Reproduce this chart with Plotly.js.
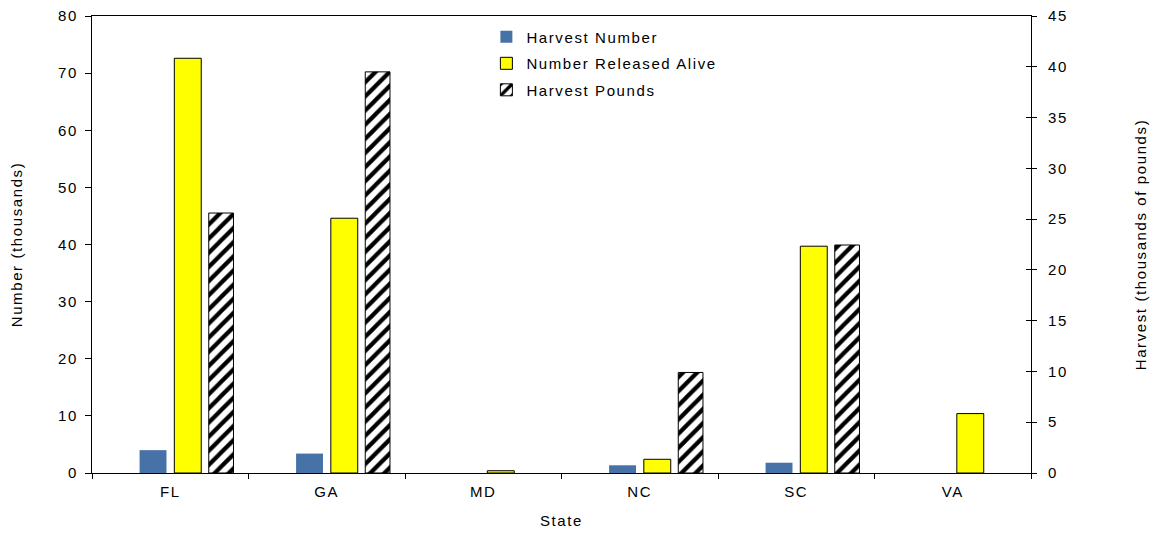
<!DOCTYPE html>
<html>
<head>
<meta charset="utf-8">
<script src="https://cdn.plot.ly/plotly-3.0.1.min.js"></script>
<style>
html,body{margin:0;padding:0;background:#fff;}
#chart{width:1158px;height:534px;}
svg text{letter-spacing:1.6px;}
</style>
</head>
<body>
<div id="chart"></div>
<script>
const states = ["FL", "GA", "MD", "NC", "SC", "VA"];
const harvestNumber = [4.0, 3.4, 0, 1.35, 1.8, 0];
const releasedAlive = [72.6, 44.6, 0.4, 2.4, 39.7, 10.4];
const harvestPounds = [25.6, 39.5, 0, 9.9, 22.45, 0];
const leftTicks = [0, 10, 20, 30, 40, 50, 60, 70, 80];
const rightTicks = [0, 5, 10, 15, 20, 25, 30, 35, 40, 45];

const font = {family: "Liberation Sans, Arial, sans-serif", color: "#000"};
const f = s => Object.assign({size: s}, font);
const edge = vals => vals.map(v => (v > 0 ? 1 : 0));

const traces = [
  {type: "bar", name: "Harvest Number", legendgroup: "a", x: states, y: harvestNumber, yaxis: "y",
   offset: -0.196, width: 0.172, marker: {color: "#4672A8", line: {width: 0}}},
  {type: "bar", name: "Number Released Alive", legendgroup: "b", x: states, y: releasedAlive, yaxis: "y",
   offset: 0.026, width: 0.172, marker: {color: "#FFFF00", line: {color: "#000", width: edge(releasedAlive)}}},
  {type: "bar", name: "Harvest Pounds", legendgroup: "c", x: states, y: harvestPounds, yaxis: "y2",
   offset: 0.246, width: 0.158,
   marker: {color: "#fff", line: {color: "#000", width: edge(harvestPounds)},
            pattern: {shape: "/", size: 10, solidity: 0.42, fgcolor: "#000", bgcolor: "#fff", fillmode: "replace"}}},
  {type: "scatter", x: states, y: [null, null, null, null, null, null], yaxis: "y3", showlegend: false, hoverinfo: "skip"}
];

const layout = {
  width: 1158, height: 534,
  margin: {l: 92, r: 127, t: 16, b: 61},
  paper_bgcolor: "#fff", plot_bgcolor: "#fff",
  font: f(15),
  showlegend: true,
  legend: {x: 0.42, y: 0.99, xanchor: "left", yanchor: "top", bgcolor: "rgba(0,0,0,0)",
           font: f(15), tracegroupgap: 4, itemwidth: 30, traceorder: "grouped"},
  xaxis: {range: [-0.5, 5.5], showline: true, linecolor: "#000", linewidth: 1, mirror: true,
          ticks: "outside", ticklen: 5, tickcolor: "#000", tickson: "boundaries", ticklabelstandoff: 5,
          showgrid: false, zeroline: false, tickfont: f(15),
          title: {text: "State", font: f(15), standoff: 16}},
  yaxis: {range: [0, 80], tickvals: leftTicks, showline: true, linecolor: "#000", linewidth: 1,
          ticks: "outside", ticklen: 6, tickcolor: "#000", showgrid: false, zeroline: false,
          ticklabelstandoff: 4, tickfont: f(15),
          title: {text: "Number (thousands)", font: f(15), standoff: 31}},
  yaxis2: {range: [0, 45], tickvals: rightTicks, overlaying: "y", side: "right", showline: true,
           linecolor: "#000", linewidth: 1, ticks: "outside", ticklen: 5, tickcolor: "#000",
           ticklabelstandoff: 8, showgrid: false, zeroline: false, tickfont: f(15),
           title: {text: "Harvest (thousands of pounds)", font: f(15), standoff: 68}},
  yaxis3: {range: [0, 45], tickvals: rightTicks, overlaying: "y", side: "right", showline: false,
           ticks: "inside", ticklen: 5, tickcolor: "#000", showticklabels: false,
           showgrid: false, zeroline: false}
};

Plotly.newPlot("chart", traces, layout, {displayModeBar: false, staticPlot: true});
</script>
</body>
</html>
